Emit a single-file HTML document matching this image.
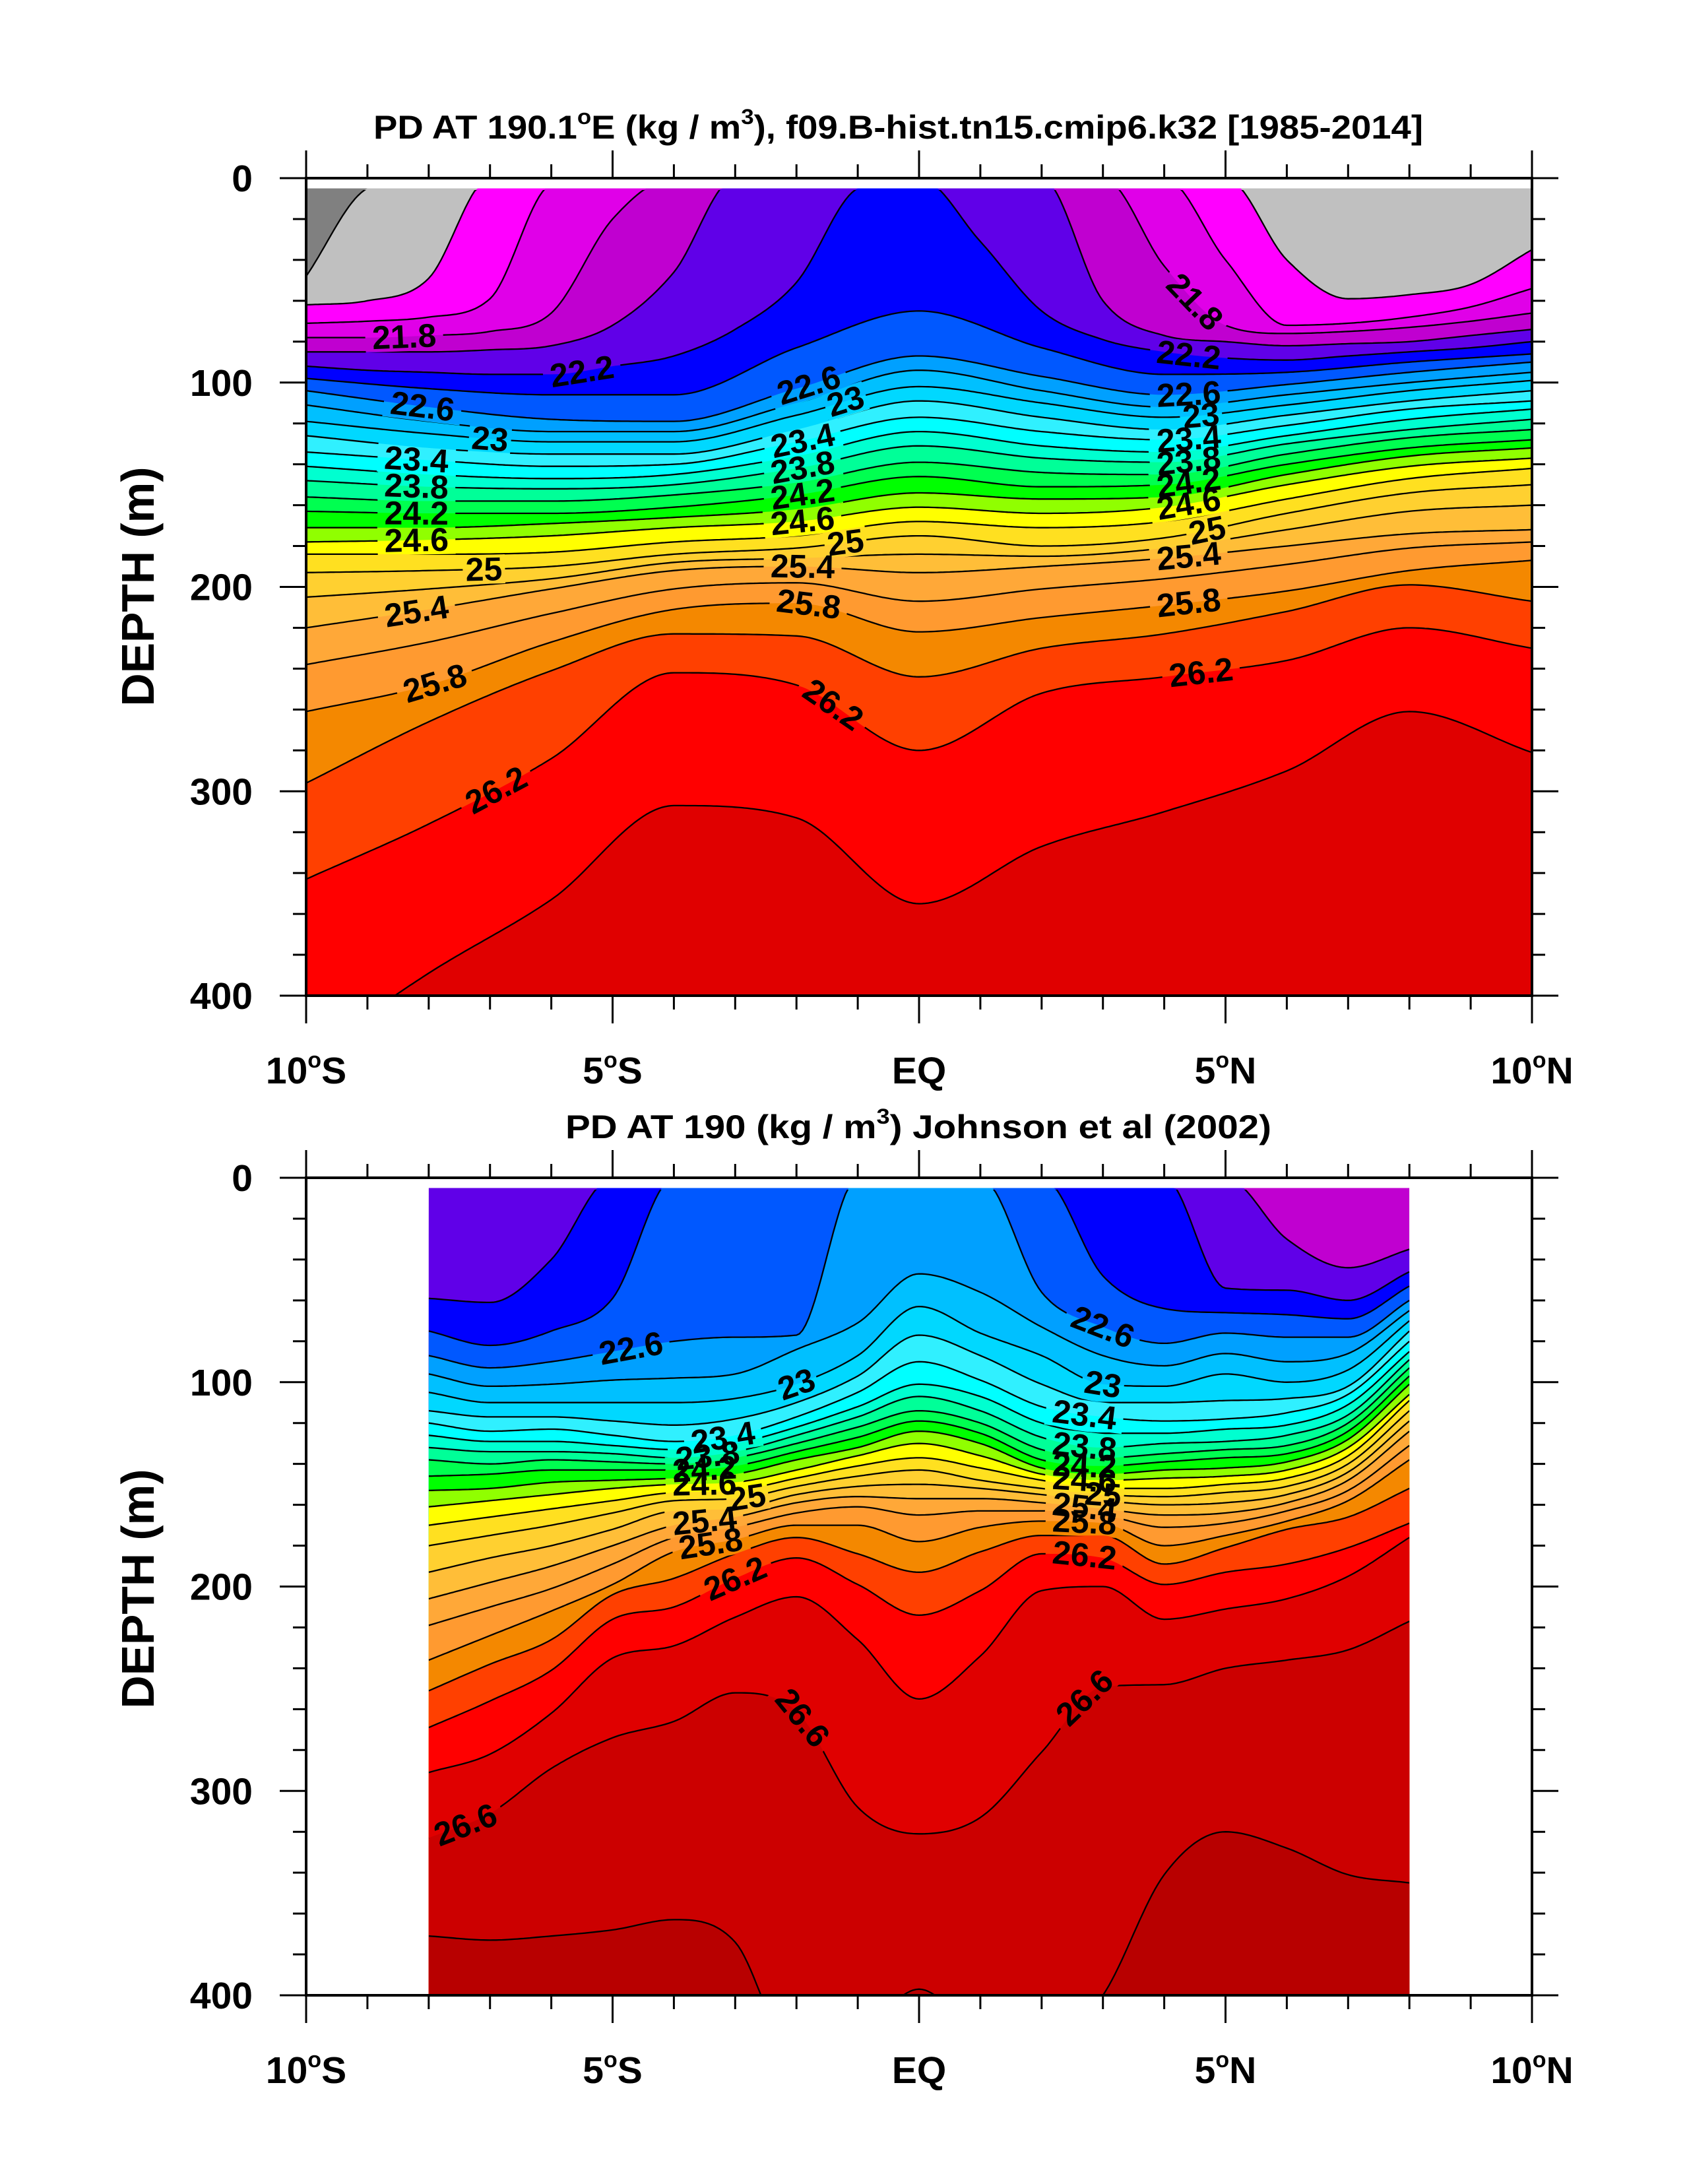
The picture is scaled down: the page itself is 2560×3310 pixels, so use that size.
<!DOCTYPE html>
<html><head><meta charset="utf-8"><style>
html,body{margin:0;padding:0;background:#fff;}
svg{display:block;font-family:"Liberation Sans",sans-serif;font-weight:bold;}
</style></head><body>
<svg id="fig" xmlns="http://www.w3.org/2000/svg" width="2560" height="3310" viewBox="0 0 2560 3310">
<rect width="2560" height="3310" fill="#fff"/>
<text x="566" y="210" font-size="50" textLength="1591" lengthAdjust="spacingAndGlyphs">PD AT 190.1<tspan font-size="32" dy="-22">o</tspan><tspan dy="22">E (kg / m</tspan><tspan font-size="32" dy="-22">3</tspan><tspan dy="22">), f09.B-hist.tn15.cmip6.k32 [1985-2014]</tspan></text>
<text x="857" y="1725" font-size="50" textLength="1070" lengthAdjust="spacingAndGlyphs">PD AT 190 (kg / m<tspan font-size="32" dy="-22">3</tspan><tspan dy="22">) Johnson et al (2002)</tspan></text>
<text font-size="70" text-anchor="middle" transform="translate(233,889) rotate(-90)" textLength="363" lengthAdjust="spacingAndGlyphs">DEPTH (m)</text>
<text font-size="70" text-anchor="middle" transform="translate(233,2408) rotate(-90)" textLength="363" lengthAdjust="spacingAndGlyphs">DEPTH (m)</text>
<g id="topPlot"></g>
<g id="botPlot"></g>
</svg>
<script>
// ---------- data ----------
const latTop = [-10,-8,-6,-4,-2,0,2,4,6,8,10];
const latTopFine = [-10,-9,-8,-7,-6,-5,-4,-3,-2,-1,0,1,2,3,4,5,6,7,8,9,10];
const levelsTop = [21.2,21.4,21.6,21.8,22.0,22.2,22.4,22.6,22.8,23.0,23.2,23.4,23.6,23.8,24.0,24.2,24.4,24.6,24.8,25.0,25.2,25.4,25.6,25.8,26.0,26.2,26.4];
const t21_2 = [48,5,0,0,0,0,0,0,0,0,0,0,0,0,0,0,0,0,0,0,0];
const t21_4 = [62,60,49,0,0,0,0,0,0,0,0,0,0,0,0,0,40,59,57,52,35];
const t21_6 = [71,70,68,59,3,0,0,0,0,0,0,0,0,0,0,40,72,71,68,63,54];
const t21_8 = [78,78,77,75,66,20,0,0,0,0,0,0,0,0,43,72,76,75,73,70,66];
const t22_0 = [85,85,85,84,82,72,46,0,0,0,0,0,0,60,77,80,82,81,80,77,74];
const t22_2 = [92,94,95,96,96,92,87,74,51,5,0,31,65,79,85,88,89,87,85,83,80];
const t22_4 = [98,103,106,106,83,65,83,96,95,90,86];
const t22_6 = [104,112,118,119,103,87,97,106,101,95,90];
const t22_8 = [111,119,124,124,110,94,104,112,106,100,95];
const t23_0 = [119,125,129,129,116,102,110,117,111,104,99];
const t23_2 = [126,132,135,135,123,109,117,123,116,109,104];
const t23_4 = [134,138,141,140,129,117,124,128,121,113,109];
const t23_6 = [141,145,147,145,136,124,131,134,126,118,113];
const t23_8 = [148,151,152,150,142,131,137,139,130,123,118];
const t24_0 = [156,158,158,155,149,139,144,145,135,127,123];
const t24_2 = [163,164,164,161,155,146,151,150,140,132,128];
const t24_4 = [171,171,169,166,162,154,157,156,145,136,132];
const t24_6 = [178,177,175,171,168,161,164,161,150,141,137];
const t24_8 = [184,184,183,178,175,168,171,168,157,147,142];
const t25_0 = [193,192,190,184,181,175,180,176,164,154,150];
const t25_2 = [205,201,196,188,186,184,185,181,172,163,160];
const t25_4 = [220,211,201,192,190,193,190,186,180,174,172];
const t25_6 = [238,227,213,201,198,207,201,196,189,181,178];
const t25_8 = [261,248,227,211,208,222,215,209,202,192,187];
const t26_0 = [296,266,241,223,224,244,230,223,212,199,207];
const t26_2 = [343,316,284,242,248,280,252,244,236,220,230];
const t26_4 = [430,389,353,307,313,355,327,310,290,261,281];
const seriesTop = [t21_2,t21_4,t21_6,t21_8,t22_0,t22_2,t22_4,t22_6,t22_8,t23_0,t23_2,t23_4,t23_6,t23_8,t24_0,t24_2,t24_4,t24_6,t24_8,t25_0,t25_2,t25_4,t25_6,t25_8,t26_0,t26_2,t26_4];
const labelsTopLevel = [21.8,22.2,22.6,23.0,23.4,23.8,24.2,24.6,25.0,25.4,25.8,26.2, 22.6,23.0,23.4,23.8,24.2,24.6,25.0,25.4,25.8,26.2, 21.8,22.2,22.6,23.0,23.4,23.8,24.2,24.6,25.0,25.4,25.8,26.2];
const labelsTopLat =   [-8.4,-5.5,-8.1,-7.0,-8.2,-8.2,-8.2,-8.2,-7.1,-8.2,-7.9,-6.9, -1.8,-1.2,-1.9,-1.9,-1.9,-1.9,-1.2,-1.9,-1.8,-1.4, 4.5,4.4,4.4,4.6,4.4,4.4,4.4,4.4,4.7,4.4,4.4,4.6];

const latBot = [-8,-7,-6,-5,-4,-3,-2,-1,0,1,2,3,4,5,6,7,8];
const levelsBot = [22.0,22.2,22.4,22.6,22.8,23.0,23.2,23.4,23.6,23.8,24.0,24.2,24.4,24.6,24.8,25.0,25.2,25.4,25.6,25.8,26.0,26.2,26.4,26.6,26.8];
const b22_0 = [0,0,0,0,0,0,0,0,0,0,0,0,0,0,30,44,35];
const b22_2 = [59,61,40,0,0,0,0,0,0,0,0,0,0,54,55,60,46];
const b22_4 = [75,82,75,59,0,0,0,0,0,0,0,48,64,66,67,69,53];
const b22_6 = [87,93,90,85,80,78,77,0,0,0,56,73,81,76,78,78,60];
const b22_8 = [96,102,101,99,98,96,84,71,47,56,73,87,92,86,90,86,65];
const b23_0 = [105,110,110,110,110,108,101,87,63,76,87,101,102,96,100,94,70];
const b23_2 = [114,117,117,119,121,118,110,97,77,87,101,110,110,109,108,102,75];
const b23_4 = [120,124,123,126,129,126,117,105,90,99,112,117,119,118,115,106,80];
const b23_6 = [126,129,129,131,133,130,122,112,101,107,120,125,125,123,121,111,85];
const b23_8 = [132,134,134,135,137,134,126,117,107,114,127,132,130,129,126,116,89];
const b24_0 = [138,140,138,139,140,137,130,122,114,120,133,137,135,133,131,120,93];
const b24_2 = [146,145,143,143,143,141,134,127,119,125,138,141,139,137,135,124,97];
const b24_4 = [153,152,149,148,147,145,138,132,124,130,142,145,143,142,139,128,101];
const b24_6 = [161,158,155,152,150,149,143,136,130,136,145,148,147,146,143,132,106];
const b24_8 = [170,166,162,158,154,153,147,141,137,142,148,152,152,150,147,136,109];
const b25_0 = [180,175,170,164,158,157,151,146,143,148,152,155,156,154,151,140,114];
const b25_2 = [193,186,180,172,163,162,155,151,150,152,155,158,160,159,155,144,119];
const b25_4 = [206,198,190,180,170,166,159,156,157,157,159,162,165,164,159,148,124];
const b25_6 = [219,210,201,189,176,171,164,161,165,163,163,165,171,169,163,153,131];
const b25_8 = [236,224,212,199,183,177,170,170,178,171,168,169,180,175,168,158,138];
const b26_0 = [251,238,226,204,196,184,176,184,193,183,175,175,189,181,172,166,152];
const b26_2 = [269,256,241,216,210,196,186,199,214,202,184,186,199,193,189,181,169];
const b26_4 = [291,282,262,235,229,215,205,226,255,234,202,200,216,211,206,195,176];
const b26_6 = [323,311,289,274,266,252,261,308,321,313,281,249,248,240,236,231,217];
const b26_8 = [371,373,371,368,363,374,430,420,397,420,430,400,341,320,328,341,345];
const seriesBot = [b22_0,b22_2,b22_4,b22_6,b22_8,b23_0,b23_2,b23_4,b23_6,b23_8,b24_0,b24_2,b24_4,b24_6,b24_8,b25_0,b25_2,b25_4,b25_6,b25_8,b26_0,b26_2,b26_4,b26_6,b26_8];
const labelsBotLevel = [22.6,23.0,23.4,23.8,24.2,24.6,25.0,25.4,25.8,26.2,26.6,26.6, 22.6,23.0,23.4,23.8,24.2,24.6,25.0,25.4,25.8,26.2,26.6];
const labelsBotLat =   [-4.7,-2.0,-3.2,-3.45,-3.5,-3.5,-2.8,-3.5,-3.4,-3.0,-7.4,-1.9, 3.0,3.0,2.7,2.7,2.7,2.7,3.0,2.7,2.7,2.7,2.7];

const xTickLabels = ["10","5","EQ","5","10"];
const xTickLats = [-10,-5,0,5,10];
const yTickLabels = ["0","100","200","300","400"];

const bandLo  = [21.2,21.4,21.6,21.8,22.0,22.2,22.4,22.6,22.8,23.0,23.2,23.4,23.6,23.8,24.0,24.2,24.4,24.6,24.8,25.0,25.2,25.4,25.6,25.8,26.0,26.2,26.4,26.6,26.8];
const bandCol = ["#c0c0c0","#ff00ff","#e000e8","#c000d0","#6000e8","#0000ff","#0058ff","#00a0ff","#00c0ff","#00d8ff","#30f0ff","#00ffff","#00ffd0","#00ff98","#00ff50","#00ff00","#90ff00","#ffff00","#ffe020","#ffd030","#ffbe38","#ffa838","#ff9a30","#f48800","#ff4000","#ff0000","#e00000","#cc0000","#b80000"];

// ---------- helpers ----------
const NS = "http://www.w3.org/2000/svg";
const X0 = 464, X1 = 2322, PXM = 3.0975, D0 = 5;
function xOf(lat){ return X0 + (lat + 10) * (X1 - X0) / 20; }
function mk(tag, attrs, parent){
  const e = document.createElementNS(NS, tag);
  for (const k in attrs) e.setAttribute(k, attrs[k]);
  parent.appendChild(e); return e;
}
function colorFor(lv){
  for (let i = 0; i < bandLo.length; i++) if (Math.abs(bandLo[i] - lv) < 1e-6) return bandCol[i];
  return "#808080";
}
function mono(xs, ys){
  const n = xs.length, d = [], m = new Array(n);
  for (let i = 0; i < n - 1; i++) d.push((ys[i+1] - ys[i]) / (xs[i+1] - xs[i]));
  m[0] = d[0]; m[n-1] = d[n-2];
  for (let i = 1; i < n - 1; i++) m[i] = (d[i-1] * d[i] <= 0) ? 0 : (d[i-1] + d[i]) / 2;
  for (let i = 0; i < n - 1; i++) {
    if (d[i] === 0) { m[i] = 0; m[i+1] = 0; continue; }
    const a = m[i] / d[i], b = m[i+1] / d[i], s = a*a + b*b;
    if (s > 9) { const t = 3 / Math.sqrt(s); m[i] = t*a*d[i]; m[i+1] = t*b*d[i]; }
  }
  return function(x){
    let i = 0; while (i < n - 2 && x > xs[i+1]) i++;
    const h = xs[i+1] - xs[i], t = (x - xs[i]) / h, t2 = t*t, t3 = t2*t;
    return (2*t3-3*t2+1)*ys[i] + (t3-2*t2+t)*h*m[i] + (-2*t3+3*t2)*ys[i+1] + (t3-t2)*h*m[i+1];
  };
}

function drawPanel(cfg){
  const g = document.getElementById(cfg.id);
  const Y0 = cfg.y0, yOf = d => Y0 + d * PXM, Y1 = yOf(400);
  const la0 = cfg.lats[0], la1 = cfg.lats[cfg.lats.length-1];
  const dx0 = xOf(la0), dx1 = xOf(la1);
  const cid = cfg.id + "-clip", lid = cfg.id + "-lclip", mid = cfg.id + "-mask";
  const defs = mk("defs", {}, g);
  const cp = mk("clipPath", {id: cid}, defs);
  mk("rect", {x: dx0, y: yOf(D0), width: dx1 - dx0, height: Y1 - yOf(D0)}, cp);
  const lp = mk("clipPath", {id: lid}, defs);
  mk("rect", {x: dx0, y: yOf(D0) + 2.5, width: dx1 - dx0, height: Y1 - yOf(D0) - 2.5}, lp);
  const mask = mk("mask", {id: mid, maskUnits: "userSpaceOnUse", x: 0, y: 0, width: 2560, height: 3310}, defs);
  mk("rect", {x: 0, y: 0, width: 2560, height: 3310, fill: "#fff"}, mask);

  const fills = mk("g", {"clip-path": "url(#" + cid + ")"}, g);
  
  
  const bgr = mk("rect", {x: dx0, y: yOf(D0), width: dx1 - dx0, height: Y1 - yOf(D0), fill: cfg.bg}, fills);
  
  

  const funcs = cfg.series.map(s => {
    const xs = (s.length === cfg.lats.length) ? cfg.lats : cfg.fineLats;
    return mono(xs, s);
  });
  const curves = funcs.map(f => {
    const pts = [];
    for (let la = la0; la <= la1 + 1e-9; la += 0.05) {
      let d = f(Math.min(la, la1)); if (d < D0) d = D0;
      pts.push([xOf(la), yOf(d)]);
    }
    return pts;
  });
  curves.forEach((pts, i) => {
    let p = "M" + pts.map(q => q[0].toFixed(1) + "," + q[1].toFixed(1)).join("L");
    p += "L" + (dx1 + 5) + "," + (Y1 + 20) + "L" + (dx0 - 5) + "," + (Y1 + 20) + "Z";
    const el = mk("path", {d: p, fill: colorFor(cfg.levels[i]), stroke: "none"}, fills);
    
    
  });

  const lwrap = mk("g", {mask: "url(#" + mid + ")"}, g);
  const lines = mk("g", {"clip-path": "url(#" + lid + ")", fill: "none", stroke: "#000", "stroke-width": 2.3, "stroke-linejoin": "round"}, lwrap);
  
  
  curves.forEach((pts, i) => {
    const el = mk("path", {d: "M" + pts.map(q => q[0].toFixed(1) + "," + q[1].toFixed(1)).join("L")}, lines);
    
    
  });

  const lg = mk("g", {}, g);
  
  
  cfg.labLevels.forEach((lv, k) => {
    const i = cfg.levels.findIndex(v => Math.abs(v - lv) < 1e-6);
    if (i < 0) return;
    const la = cfg.labLats[k], f = funcs[i];
    const d = Math.max(D0, f(la));
    const x = xOf(la), y = yOf(d);
    const dd = Math.max(D0, f(la + 0.2)) - Math.max(D0, f(la - 0.2));
    let ang = Math.atan2(dd * PXM, xOf(la + 0.2) - xOf(la - 0.2)) * 180 / Math.PI;
    const txt = (Math.abs(lv - Math.round(lv)) < 1e-6) ? String(Math.round(lv)) : lv.toFixed(1);
    const w = txt.length * 27 + 10;
    mk("rect", {x: -w/2, y: -22, width: w, height: 44, fill: "#000", transform: "translate(" + x + "," + y + ") rotate(" + ang + ")"}, mask);
    const t = mk("text", {x: 0, y: 0, "font-size": 50, "text-anchor": "middle", "dominant-baseline": "central", transform: "translate(" + x + "," + y + ") rotate(" + ang + ")"}, lg);
    t.textContent = txt;
    
    
  });

  // axes
  const ax = mk("g", {stroke: "#000", "stroke-width": 4, fill: "none"}, g);
  
  
  mk("rect", {x: X0, y: Y0, width: X1 - X0, height: Y1 - Y0}, ax);
  for (let la = -10; la <= 10; la++) {
    const L = (la % 5 === 0) ? 42 : 21, x = xOf(la);
    mk("line", {x1: x, y1: Y0, x2: x, y2: Y0 - L, "stroke-width": 3}, ax);
    mk("line", {x1: x, y1: Y1, x2: x, y2: Y1 + L, "stroke-width": 3}, ax);
  }
  for (let d = 0; d <= 400; d += 20) {
    const L = (d % 100 === 0) ? 40 : 20, y = yOf(d);
    mk("line", {x1: X0, y1: y, x2: X0 - L, y2: y, "stroke-width": 3}, ax);
    mk("line", {x1: X1, y1: y, x2: X1 + L, y2: y, "stroke-width": 3}, ax);
  }
  yTickLabels.forEach((s, k) => {
    const t = mk("text", {x: 383, y: yOf(k * 100) + 20, "font-size": 57, "text-anchor": "end"}, g);
    t.textContent = s;
    
    
  });
  xTickLats.forEach((la, k) => {
    const t = mk("text", {x: xOf(la), y: Y1 + 133, "font-size": 57, "text-anchor": "middle"}, g);
    
    
    if (la === 0) { t.textContent = "EQ"; return; }
    const a = mk("tspan", {}, t); a.textContent = xTickLabels[k];
    const b = mk("tspan", {"font-size": 34, dy: -24}, t); b.textContent = "o";
    const c = mk("tspan", {dy: 24}, t); c.textContent = la < 0 ? "S" : "N";
  });
}

drawPanel({id: "topPlot", y0: 270, lats: latTop, fineLats: latTopFine, levels: levelsTop, series: seriesTop, bg: "#808080", labLevels: labelsTopLevel, labLats: labelsTopLat});
drawPanel({id: "botPlot", y0: 1785, lats: latBot, fineLats: latBot, levels: levelsBot, series: seriesBot, bg: "#c000d0", labLevels: labelsBotLevel, labLats: labelsBotLat});
</script>
</body></html>
